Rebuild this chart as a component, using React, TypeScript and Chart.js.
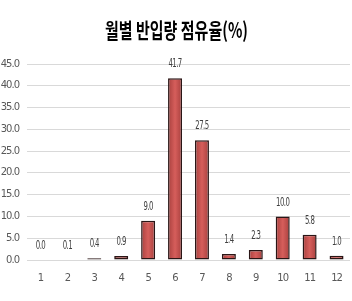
import React, { useEffect, useRef } from "react";
import { Chart, registerables } from "chart.js";

Chart.register(...registerables);

const TITLE = "월별 반입량 점유율(%)";
const MONTHS = ["1", "2", "3", "4", "5", "6", "7", "8", "9", "10", "11", "12"];
const SHARE = [0.0, 0.1, 0.4, 0.9, 9.0, 41.7, 27.5, 1.4, 2.3, 10.0, 5.8, 1.0];
const Y_MIN = 0;
const Y_MAX = 45;
const Y_STEP = 5;

const FAMILY = "'DejaVu Sans', sans-serif";

function condensedText(ctx: any, text: string, x: number, y: number, sx: number) {
  ctx.save();
  ctx.translate(x, y);
  ctx.scale(sx, 1);
  ctx.fillText(text, 0, 0);
  ctx.restore();
}

const titlePlugin = {
  id: "koTitle",
  afterDraw(chart: any) {
    const ctx = chart.ctx;
    ctx.save();
    ctx.font = "bold 21px 'Noto Sans CJK KR', sans-serif";
    ctx.fillStyle = "#000";
    ctx.textAlign = "center";
    ctx.textBaseline = "middle";
    const w = ctx.measureText(TITLE).width;
    condensedText(ctx, TITLE, 176.5, 30, 143 / w);
    ctx.restore();
  },
};

const labelPlugin = {
  id: "valueLabels",
  afterDatasetsDraw(chart: any) {
    const ctx = chart.ctx;
    const meta = chart.getDatasetMeta(0);
    ctx.save();
    ctx.font = "12px " + FAMILY;
    ctx.fillStyle = "#404040";
    ctx.textAlign = "center";
    ctx.textBaseline = "middle";
    meta.data.forEach((bar: any, i: number) => {
      condensedText(ctx, SHARE[i].toFixed(1), bar.x, bar.y - 14, 0.58);
    });
    ctx.restore();
  },
};

const condenseTicks = {
  id: "condenseTicks",
  beforeDraw(chart: any) {
    try {
      chart.ctx.letterSpacing = "-1px";
    } catch (e) {}
  },
  afterDraw(chart: any) {
    try {
      chart.ctx.letterSpacing = "0px";
    } catch (e) {}
  },
};

export default function App() {
  const ref = useRef<HTMLCanvasElement | null>(null);
  useEffect(() => {
    document.body.style.margin = "0";
    const chart: any = new Chart(ref.current!, {
      type: "bar",
      data: {
        labels: MONTHS,
        datasets: [
          {
            data: SHARE,
            backgroundColor: (c: any) => {
              const ch = c.chart;
              const xs = ch.scales && ch.scales.x;
              if (!xs || c.dataIndex === undefined) return "#C4504E";
              const cx = xs.getPixelForValue(c.dataIndex);
              if (!Number.isFinite(cx)) return "#C4504E";
              const g = ch.ctx.createLinearGradient(cx - 7, 0, cx + 7, 0);
              g.addColorStop(0, "#A8403E");
              g.addColorStop(0.5, "#D65E5B");
              g.addColorStop(1, "#A8403E");
              return g;
            },
            borderColor: "#2a1616",
            borderWidth: 1.5,
            borderSkipped: false,
            categoryPercentage: 1,
            barPercentage: 0.52,
          },
        ],
      },
      options: {
        animation: false,
        responsive: false,
        devicePixelRatio: 1,
        layout: { padding: { top: 64, left: 0, right: 2, bottom: 0 } },
        plugins: { legend: { display: false }, tooltip: { enabled: false }, title: { display: false } },
        scales: {
          x: {
            grid: { display: false },
            border: { display: false },
            ticks: { color: "#595959", font: { family: FAMILY, size: 10 }, padding: 4 },
            afterFit: (s: any) => {
              s.height = 41;
            },
          },
          y: {
            min: Y_MIN,
            max: Y_MAX,
            grid: { color: "#d9d9d9", drawTicks: false },
            border: { display: false },
            ticks: {
              stepSize: Y_STEP,
              color: "#595959",
              font: { family: FAMILY, size: 10 },
              padding: 8,
              callback: (v: any) => Number(v).toFixed(1),
            },
            afterFit: (s: any) => {
              s.width = 27;
            },
          },
        },
      },
      plugins: [condenseTicks, titlePlugin, labelPlugin],
    });
    return () => chart.destroy();
  }, []);
  return (
    <div style={{ position: "fixed", left: 0, top: 0, width: 352, height: 301, background: "#fff" }}>
      <canvas ref={ref} width={352} height={301} />
    </div>
  );
}
